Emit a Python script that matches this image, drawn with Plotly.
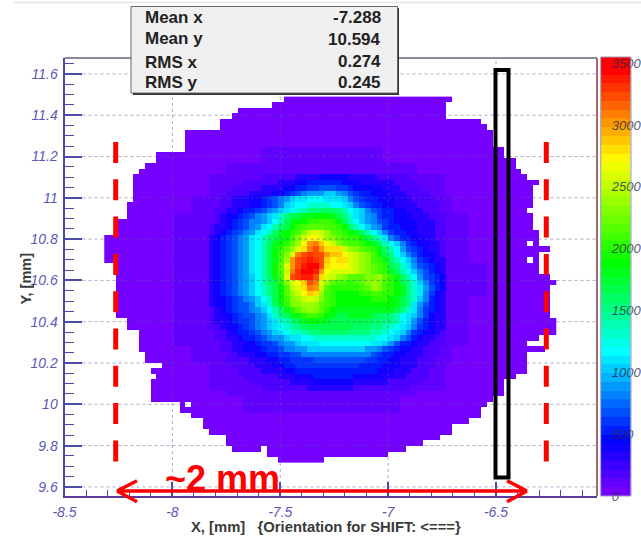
import numpy as np
import plotly.graph_objects as go

W, H = 641, 539
PLOT_L, PLOT_R, PLOT_T, PLOT_B = 64.5, 597.0, 58.0, 496.0
X_RANGE = [-8.5, -6.032]
Y_RANGE = [9.556, 11.677]

# histogram binning
X_FIRST_EDGE = -8.3157
Y_TOP_EDGE = 11.490
BIN_X = 0.02685
BIN_Y = 0.02688

# for each row from the top: first filled column and end column (exclusive)
row_first = [31, 29, 23, 22, 20, 20, 14, 14, 14, 14, 9, 9, 7, 6, 5, 5, 5, 5, 5, 4, 4, 4,
             2, 2, 2, 0, 0, 0, 0, 0, 2, 2, 2, 2, 2, 2, 2, 2, 2, 2, 4, 4, 6, 6, 6, 6, 7, 7,
             10, 8, 9, 8, 8, 8, 8, 13, 13, 15, 17, 17, 18, 21, 21, 22, 28, 30]
row_end = [60, 59, 59, 59, 65, 66, 67, 67, 67, 69, 69, 71, 71, 72, 73, 75, 74, 74, 74, 74,
           73, 74, 74, 74, 75, 75, 75, 77, 75, 75, 75, 75, 77, 78, 77, 77, 77, 77, 77, 77,
           78, 78, 78, 75, 73, 76, 73, 73, 73, 73, 71, 69, 69, 69, 67, 66, 65, 65, 63, 60,
           60, 58, 55, 52, 49, 38]
holes = [(26, 73), (29, 73), (55, 14), (63, 27)]

# low-level background, one character per block of 3x3 bins
RIM_BLOCK = 3
rim_blocks = [
    "000000000000000000000000000",
    "000000000000000000000000000",
    "000000000000000000000000000",
    "000000000111111100000000000",
    "000000011111111111000000000",
    "000000111111111111100000000",
    "000001111111111111110000000",
    "000011111111111111111000000",
    "000011111111111111111000000",
    "000011111111111111111000000",
    "000011111111111111111100000",
    "000011111111111111111100000",
    "000011111111111111111000000",
    "000011111111111111111000000",
    "000011111111111111111000000",
    "000001111111111111110000000",
    "000000111111111111100000000",
    "000000011111111111000000000",
    "000000001111111110000000000",
    "000000000000000000000000000",
    "000000000000000000000000000",
    "000000000000000000000000000",
]

# central part, in units of 100 counts (0-9, a=10 ... z=35): rows 14.., columns 18..
CORE_ROW0, CORE_COL0 = 14, 18
core_rows = [
    "11111111122222233334444433333222222111111",
    "11111122222233344555555444333333222211111",
    "11112222233334455667776654444433322221111",
    "11122223333445678999aa98765" + "54443332222111",
    "1122333445" + "6789a" + "bbcccbbb" + "a876" + "5" + "5444333222211",
    "1122333445" + "678a" + "bccddddccb" + "a876" + "5544" + "333322221",
    "122334" + "5567" + "89abcdef" + "fgggfecba" + "8765" + "5" + "443332221",
    "12344" + "56789ab" + "dfh" + "hiijjji" + "hfdb" + "a986" + "55444" + "333222",
    "1234567889ace" + "hijjkkllkj" + "geca98765" + "444433322",
    "233456789bceg" + "hjklmmmllkj" + "geca" + "9865" + "544433322",
    "23456789bc" + "egijklnpqpomlkjige" + "ca865" + "54433322",
    "3456789bce" + "ghijlnprrqonmlkkjhfd" + "b8755443322",
    "3456789bce" + "gijkmoruvtrpnmllkjig" + "eca86544332",
    "3456789bce" + "hikmoqsvwussspon" + "mlki" + "gec97654332",
    "3456789bce" + "hjlnqvwxwwuttrqponlj" + "hfca8754432",
    "3456789bce" + "hilouwxyxwtrssqponlk" + "igeca865433",
    "3456789bce" + "hjmquwyzzwsrrrqponml" + "khfdb976543",
    "3456789bce" + "hjmpvxzzyurqqqqponml" + "kigeca87543",
    "3456789ace" + "gilqwxyywsqponmmmnno" + "mkigec97654",
    "3456789ace" + "ghknqrtwvqomllklmnon" + "lkjhfda8654",
    "3456789acd" + "fhjmpqsvupmkkkkklmon" + "lkjifdb9754",
    "3456789acd" + "fhjmoprtsolkjjjjkkll" + "kkjifdb8643",
    "34456789ac" + "ehjlnopqpnlkjjjjjjkk" + "kjihfda8543",
    "34456778ab" + "dgiknnooomlkjjjjjjjj" + "jjihfb97543",
    "234567789a" + "cegikmnonmkjiiiiiiii" + "iihfdb86543",
    "2344567789" + "bdfgijkllkjihhiiiihg" + "gfecba86433",
    "2334566789" + "abdeghijjiihhhhhhhgg" + "ffecb975433",
    "2234456789" + "abcdefghhhhhhhhgggff" + "edcba865433",
    "1223455678" + "9abcddeffgggggffffee" + "dcba8654432",
    "1223345567" + "899abbccdddddddddddc" + "cba87543322",
    "1122334456" + "67899abbbcccccccccbb" + "a9755433222",
    "1122334445" + "6678899aaaaaaaaaa998" + "76544332221",
    "1112233344" + "55667788888888888876" + "55443332221",
    "1112222333" + "44556666777777777665" + "54433322211",
    "1111222233" + "34455666666666665555" + "44433322211",
    "1111122223" + "33344555555555555554" + "44333222111",
    "1111112222" + "22333444555555544444" + "33332222111",
    "1111111222" + "22223333444444433333" + "32222221111",
    "1111111112" + "22222223333333322222" + "22222111111",
]

LEVEL_CHARS = "0123456789abcdefghijklmnopqrstuvwxyz"
LEVEL_UNIT = 100

x_major = [-8.5, -8, -7.5, -7, -6.5]
x_major_text = ["-8.5", "-8", "-7.5", "-7", "-6.5"]
y_major = [9.6, 9.8, 10, 10.2, 10.4, 10.6, 10.8, 11, 11.2, 11.4, 11.6]
y_major_text = ["9.6", "9.8", "10", "10.2", "10.4", "10.6", "10.8", "11", "11.2", "11.4", "11.6"]
cbar_ticks = [0, 500, 1000, 1500, 2000, 2500, 3000, 3500]
cbar_text = ["0", "500", "1000", "1500", "2000", "2500", "3000", "3500"]
Z_MAX = 3550
N_COLOURS = 50

stat_names = ["Mean x", "Mean y", "RMS x", "RMS y"]
stat_values = ["-7.288", "10.594", "0.274", "0.245"]

# palette anchors: value, (r, g, b)
pal_at = [0, 450, 1170, 1885, 2715, 3450, 3550]
pal_r = [128, 0, 0, 0, 255, 255, 255]
pal_g = [0, 0, 255, 255, 255, 0, 0]
pal_b = [255, 255, 255, 0, 0, 0, 0]

# ---- build z
n_rows, n_cols = len(row_first), max(row_end)
z = [[None] * n_cols for _ in range(n_rows)]
for r in range(n_rows):
    for c in range(row_first[r], row_end[r]):
        block = rim_blocks[min(r // RIM_BLOCK, len(rim_blocks) - 1)][min(c // RIM_BLOCK, 26)]
        z[r][c] = LEVEL_CHARS.index(block) * LEVEL_UNIT
for i, row in enumerate(core_rows):
    row = row.ljust(41, "1")[:41]
    for j, ch in enumerate(row):
        z[CORE_ROW0 + i][CORE_COL0 + j] = LEVEL_CHARS.index(ch) * LEVEL_UNIT
for r, c in holes:
    z[r][c] = None

x_centres = [X_FIRST_EDGE + (c + 0.5) * BIN_X for c in range(n_cols)]
y_centres = [Y_TOP_EDGE - (r + 0.5) * BIN_Y for r in range(n_rows)]

# stepped palette
colourscale = []
for n in range(N_COLOURS):
    lo, hi = n / N_COLOURS, (n + 1) / N_COLOURS
    v = (n + 0.5) / N_COLOURS * Z_MAX
    col = "rgb(%d,%d,%d)" % (np.interp(v, pal_at, pal_r), np.interp(v, pal_at, pal_g), np.interp(v, pal_at, pal_b))
    colourscale += [[lo, col], [hi, col]]


def px(x):
    return x / W


def py(y):
    return 1 - y / H


fig = go.Figure()
fig.add_trace(go.Heatmap(
    x=x_centres, y=y_centres, z=z, zmin=0, zmax=Z_MAX, colorscale=colourscale,
    showscale=False, hoverongaps=False, xgap=0, ygap=0,
))

# palette bar in its own axes
CB_T, CB_B = 57.0, 496.0
CB_L, CB_R = 600.7, 631.0
px_per_unit = (CB_B - CB_T) / Z_MAX
cb_low, cb_high = -160, Z_MAX + 100
bar_edges = [Z_MAX * n / N_COLOURS for n in range(N_COLOURS + 1)]
bar_mid = [(a + b) / 2 for a, b in zip(bar_edges[:-1], bar_edges[1:])]
fig.add_trace(go.Heatmap(
    x=[0.5], y=bar_mid, z=[[v] for v in bar_mid], zmin=0, zmax=Z_MAX, colorscale=colourscale,
    showscale=False, xaxis="x2", yaxis="y2", hoverinfo="skip",
))

TICK_BLUE = "#5a5ab4"
AXIS_BLUE = "#4a4aa8"
tickfont = dict(family="Liberation Sans", size=14, color=TICK_BLUE, style="italic")

fig.update_layout(
    width=W, height=H, autosize=False, margin=dict(l=0, r=0, t=0, b=0, autoexpand=False),
    paper_bgcolor="white", plot_bgcolor="white", showlegend=False,
    xaxis=dict(
        automargin=False,
        domain=[px(PLOT_L), px(PLOT_R)], range=X_RANGE, tickmode="array",
        tickvals=x_major, ticktext=x_major_text, ticks="inside", ticklen=14, tickwidth=1.5,
        tickcolor=AXIS_BLUE, tickfont=tickfont, showgrid=False, zeroline=False,
        showline=True, linecolor="#5a3a9a", linewidth=2,
        minor=dict(ticks="inside", ticklen=6, tickcolor=AXIS_BLUE, tickwidth=1, tick0=-8.5, dtick=0.1, showgrid=False),
        ticklabelstandoff=2,
    ),
    yaxis=dict(
        automargin=False,
        domain=[py(PLOT_B), py(PLOT_T)], range=Y_RANGE, tickmode="array",
        tickvals=y_major, ticktext=y_major_text, ticks="inside", ticklen=17, tickwidth=1.5,
        tickcolor=AXIS_BLUE, tickfont=tickfont, showgrid=False, zeroline=False,
        showline=True, linecolor=AXIS_BLUE, linewidth=2,
        minor=dict(ticks="inside", ticklen=9, tickcolor=AXIS_BLUE, tickwidth=1, tick0=9.6, dtick=0.05, showgrid=False),
        ticklabelstandoff=2,
    ),
    xaxis2=dict(
        automargin=False,
        domain=[px(CB_L), px(CB_R)], range=[0, 1], anchor="y2", visible=False,
    ),
    yaxis2=dict(
        automargin=False,
        domain=[py(CB_B + (0 - cb_low) * px_per_unit), py(CB_T - (cb_high - Z_MAX) * px_per_unit)],
        range=[cb_low, cb_high], anchor="x2", side="left", ticklabelposition="inside",
        tickmode="array", tickvals=cbar_ticks, ticktext=cbar_text, ticks="", showgrid=False,
        zeroline=False, showline=False, ticklabelstandoff=8,
        tickfont=dict(family="Liberation Sans", size=13, color="rgba(40,40,70,0.8)", style="italic"),
    ),
)

shapes = []
# dotted grid drawn over the map
GRID = dict(color="rgba(90,90,150,0.5)", width=1, dash="dot")
for v in x_major[1:]:
    shapes.append(dict(type="line", xref="x", yref="y", x0=v, x1=v, y0=Y_RANGE[0], y1=Y_RANGE[1], line=GRID))
for v in y_major:
    shapes.append(dict(type="line", xref="x", yref="y", x0=X_RANGE[0], x1=X_RANGE[1], y0=v, y1=v, line=GRID))
# frame top / right
shapes.append(dict(type="line", xref="paper", yref="paper", x0=px(PLOT_L), x1=px(PLOT_R), y0=py(PLOT_T), y1=py(PLOT_T),
                   line=dict(color="#666677", width=1.5)))
shapes.append(dict(type="line", xref="paper", yref="paper", x0=px(PLOT_R), x1=px(PLOT_R), y0=py(PLOT_T), y1=py(PLOT_B),
                   line=dict(color="#a06a72", width=2)))
# palette outline
shapes.append(dict(type="rect", xref="paper", yref="paper", x0=px(CB_L), x1=px(CB_R), y0=py(CB_B), y1=py(CB_T),
                   line=dict(color="#9a9ac0", width=1)))
# faint line at the very top of the page
shapes.append(dict(type="line", xref="paper", yref="paper", x0=px(14), x1=1, y0=py(2.5), y1=py(2.5),
                   line=dict(color="#e4e4e4", width=1.5)))
# stats box with shadow
shapes.append(dict(type="rect", xref="paper", yref="paper", x0=px(133), x1=px(399), y0=py(95), y1=py(8),
                   line=dict(width=0), fillcolor="#303030"))
shapes.append(dict(type="rect", xref="paper", yref="paper", x0=px(131), x1=px(397.5), y0=py(93), y1=py(6.5),
                   line=dict(color="#666666", width=1), fillcolor="#f0f0f0"))
# red dashed markers
RED = "#ff0000"
for xp in (115.7, 546.3):
    shapes.append(dict(type="line", xref="paper", yref="paper", x0=px(xp), x1=px(xp), y0=py(142), y1=py(462),
                       line=dict(color=RED, width=5, dash="21px,16.3px")))
# black window
shapes.append(dict(type="rect", xref="paper", yref="paper", x0=px(495.5), x1=px(508.5), y0=py(477.5), y1=py(70),
                   line=dict(color="#000000", width=4)))
# double arrow
for seg in [((117, 491), (527, 491)), ((117, 491), (137, 480.7)), ((117, 491), (137, 501.7)),
            ((527, 491), (507, 480.7)), ((527, 491), (507, 501.7))]:
    shapes.append(dict(type="line", xref="paper", yref="paper", x0=px(seg[0][0]), y0=py(seg[0][1]),
                       x1=px(seg[1][0]), y1=py(seg[1][1]), line=dict(color=RED, width=3.5)))
fig.update_layout(shapes=shapes)

ann = []
stat_y = [17.5, 38.5, 62, 82]
stat_val_y = [17.5, 40, 61.5, 82]
for name, value, yn, yv in zip(stat_names, stat_values, stat_y, stat_val_y):
    ann.append(dict(text=name, xref="paper", yref="paper", x=px(143), y=py(yn), xanchor="left", yanchor="middle",
                    showarrow=False, font=dict(family="Liberation Sans", size=17, color="#222222", weight="bold")))
    ann.append(dict(text=value, xref="paper", yref="paper", x=px(383), y=py(yv), xanchor="right", yanchor="middle",
                    showarrow=False, font=dict(family="Liberation Sans", size=17, color="#222222", weight="bold")))
ann.append(dict(text="~2 mm", xref="paper", yref="paper", x=px(222), y=py(478), xanchor="center", yanchor="middle",
                showarrow=False, font=dict(family="Liberation Sans", size=36, color=RED, weight="bold")))
ann.append(dict(text="X, [mm]   {Orientation for SHIFT: &lt;===}", xref="paper", yref="paper", x=px(189), y=py(527),
                xanchor="left", yanchor="middle", showarrow=False,
                font=dict(family="Liberation Sans", size=14.8, color="#3a3a3a", weight="bold")))
ann.append(dict(text="Y, [mm]", xref="paper", yref="paper", x=px(25.5), y=py(279), textangle=-90,
                xanchor="center", yanchor="middle", showarrow=False,
                font=dict(family="Liberation Sans", size=14.5, color="#3a3a3a", weight="bold")))
fig.update_layout(annotations=ann)

fig.write_html("out.html", config=dict(displayModeBar=False),
               post_script="document.body.style.margin='0';document.documentElement.style.overflow='hidden';")
